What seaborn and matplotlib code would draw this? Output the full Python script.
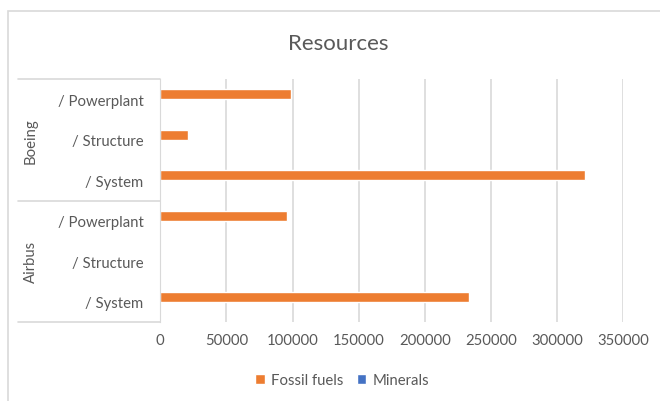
import numpy as np
import pandas as pd
import seaborn as sns
import matplotlib.pyplot as plt
from matplotlib.patches import Rectangle
from matplotlib.transforms import blended_transform_factory

# Data
groups = ["Boeing", "Boeing", "Boeing", "Airbus", "Airbus", "Airbus"]
parts = ["/ Powerplant", "/ Structure", "/ System", "/ Powerplant", "/ Structure", "/ System"]
fossil_fuels = [99000, 21000, 321000, 96000, 0, 233000]
minerals = [0, 0, 0, 0, 0, 0]
x_ticks = [0, 50000, 100000, 150000, 200000, 250000, 300000, 350000]

keys = [g + " " + p for g, p in zip(groups, parts)]
df = pd.DataFrame({
    "cat": keys * 2,
    "value": fossil_fuels + minerals,
    "series": ["Fossil fuels"] * len(keys) + ["Minerals"] * len(keys),
})

sns.set_style("white")
plt.rcParams["font.family"] = ["Lato", "DejaVu Sans"]

text_col = "#595959"
grid_col = "#d9d9d9"

fig = plt.figure(figsize=(6.6, 4.02), dpi=100)
ax = fig.add_axes([160.3 / 660, 1 - 323 / 402, 463 / 660, 243 / 402])

sns.barplot(data=df, y="cat", x="value", hue="series", order=keys,
            palette=["#ED7D31", "#4472C4"], width=0.5, orient="h",
            saturation=1, ax=ax, legend=True)

ax.set_xlim(0, 350000)
ax.set_ylim(5.5, -0.5)
ax.set_xticks(x_ticks)
ax.set_xticklabels([str(t) for t in x_ticks])
ax.set_yticks(range(len(keys)))
ax.set_yticklabels(parts)
ax.set_xlabel("")
ax.set_ylabel("")
ax.tick_params(axis="both", length=0, labelsize=10.7, colors=text_col)
ax.tick_params(axis="x", pad=8)
ax.tick_params(axis="y", pad=12)
ax.xaxis.grid(True, color=grid_col, lw=1.2)
ax.set_axisbelow(True)
for s in ["top", "right", "bottom"]:
    ax.spines[s].set_visible(False)
ax.spines["left"].set_color(grid_col)

# category table on the left
tr = blended_transform_factory(ax.transAxes, ax.transData)
for yy in [-0.5, 2.5, 5.5]:
    ax.plot([-0.307, 0], [yy, yy], color=grid_col, lw=1.2, transform=tr, clip_on=False)
for name, yc in [("Boeing", 1), ("Airbus", 4)]:
    ax.text(-0.279, yc, name, rotation=90, ha="center", va="center",
            fontsize=10.7, color=text_col, transform=tr)

fig.text(338 / 660, 1 - 44 / 402, "Resources", ha="center", va="center",
         fontsize=16, color=text_col)

ax.legend(loc="center", bbox_to_anchor=(342 / 660, 1 - 381 / 402),
          bbox_transform=fig.transFigure, ncol=2, frameon=False,
          fontsize=10.7, labelcolor=text_col, handlelength=0.65, handleheight=0.65,
          handletextpad=0.4, columnspacing=0.9)

# chart border
fig.patches.append(Rectangle((8 / 660, -0.1), 1.2, 1 - 12 / 402 + 0.1,
                             transform=fig.transFigure, fill=False,
                             edgecolor=grid_col, lw=1.2))

fig.savefig("out.png", dpi=100)
